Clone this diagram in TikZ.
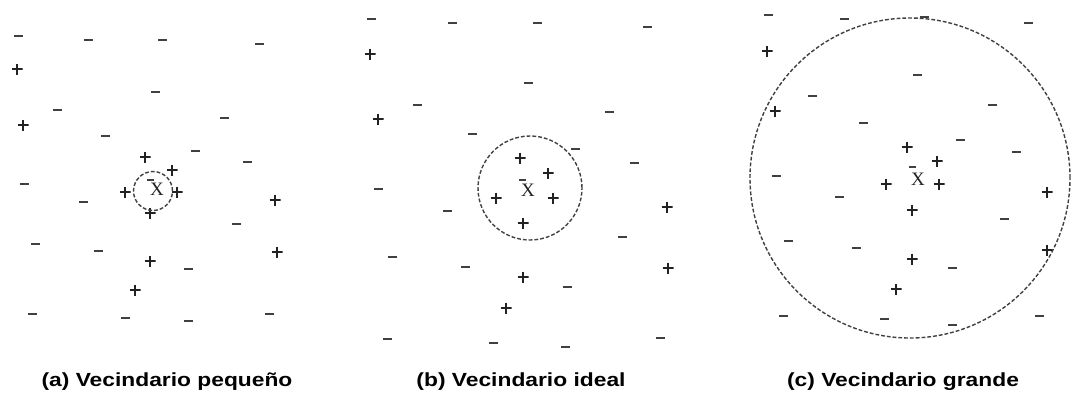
\documentclass[tikz,border=0pt]{standalone}
\usepackage{fontspec}
\setmainfont{Liberation Sans}
\newfontfamily\xfont{Liberation Serif}
\definecolor{ink}{HTML}{222222}
\definecolor{dashink}{HTML}{404040}
\begin{document}
\begin{tikzpicture}[x=1pt,y=-1pt,
  plussign/.style={inner sep=0pt, minimum size=11pt,
    path picture={\draw[ink, line width=1.5pt]
      (path picture bounding box.west) -- (path picture bounding box.east)
      (path picture bounding box.north) -- (path picture bounding box.south);}},
  minussign/.style={inner sep=0pt, fill=dashink, minimum width=9pt, minimum height=2.3pt},
  barsign/.style={inner sep=0pt, fill=dashink, minimum width=7pt, minimum height=1.8pt},
  hood/.style={circle, draw=dashink, line width=1.4pt, dash pattern=on 3.8pt off 2pt, inner sep=0pt},
  query/.style={inner sep=0pt, text=ink, font=\xfont\fontsize{19}{19}\selectfont},
  caption/.style={anchor=base, inner sep=0pt, font=\bfseries\fontsize{19}{22}\selectfont}]
\useasboundingbox (0,0) rectangle (1074,392);

% (a) small neighbourhood
\foreach \x/\y [count=\i] in {18/36,88/40,162/40,259/44,155/92,57/110,224/118,105/136,195/151,247/162,
    24/184,83/202,236/224,35/244,98/251,188/269,32/314,125/318,188/321,269/314}
  \node[minussign] (am\i) at (\x,\y) {};
\foreach \x/\y [count=\i] in {17/69,23/125,145/157,172/170,125/192,177/192,150/213,275/200,150/261,277/252,135/290}
  \node[plussign] (ap\i) at (\x,\y) {};
\node[hood, minimum size=39pt] (ha) at (153,191) {};
\node[query] (xa) at (157,189) {X};
\node[barsign] (ba) at (150,180) {};
\node[caption] (capa) at (167,386) {\scalebox{1.2}[1]{(a) Vecindario pequeño}};

% (b) ideal neighbourhood
\foreach \x/\y [count=\i] in {371/19,452/23,537/23,647/27,528/83,417/105,609/112,472/134,575/149,634/163,
    378/189,447/211,622/237,392/257,465/267,567/287,387/339,493/343,565/347,660/338}
  \node[minussign] (bm\i) at (\x,\y) {};
\foreach \x/\y [count=\i] in {370/54,378/119,520/158,548/173,496/198,553/198,523/223,667/207,523/277,668/268,506/308}
  \node[plussign] (bp\i) at (\x,\y) {};
\node[hood, minimum size=104pt] (hb) at (530,188) {};
\node[query] (xb) at (528,190) {X};
\node[barsign] (bb) at (522,180) {};
\node[caption] (capb) at (521,386) {\scalebox{1.2}[1]{(b) Vecindario ideal}};

% (c) large neighbourhood
\foreach \x/\y [count=\i] in {768/15,844/19,924/17,1028/23,917/75,812/96,992/105,863/123,960/140,1016/152,
    776/176,839/197,1004/219,788/241,856/248,952/268,783/316,884/319,952/325,1039/316}
  \node[minussign] (cm\i) at (\x,\y) {};
\foreach \x/\y [count=\i] in {767/51,775/111,907/147,937/161,886/184,939/184,912/210,1047/192,912/259,1047/250,896/289}
  \node[plussign] (cp\i) at (\x,\y) {};
\node[hood, minimum size=320pt] (hc) at (910,178) {};
\node[query] (xc) at (918,179) {X};
\node[barsign] (bc) at (912,167) {};
\node[caption] (capc) at (903,386) {\scalebox{1.2}[1]{(c) Vecindario grande}};
\end{tikzpicture}
\end{document}
